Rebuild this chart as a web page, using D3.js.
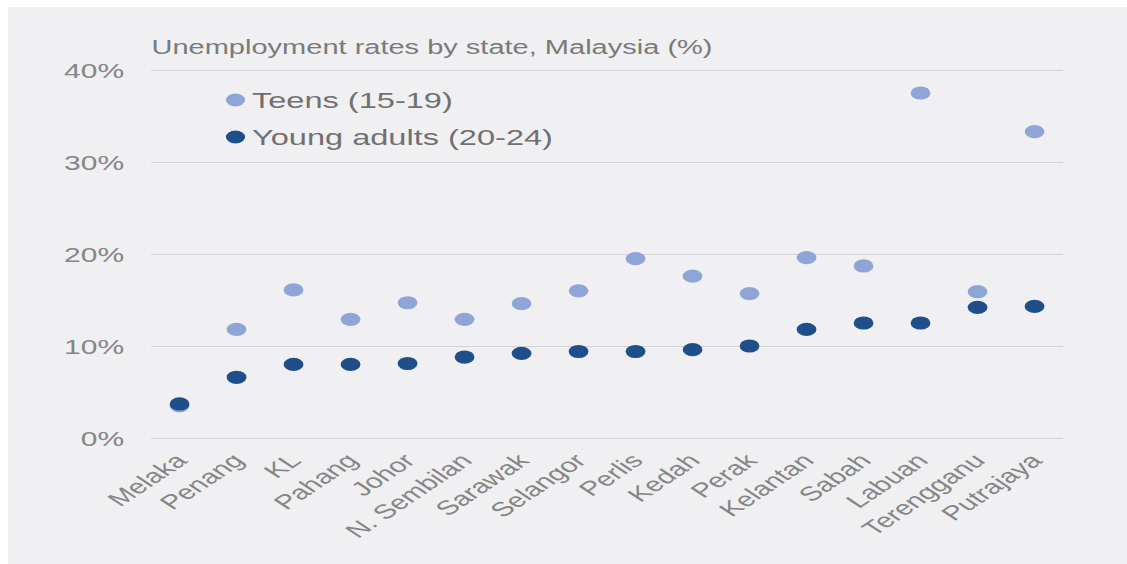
<!DOCTYPE html>
<html>
<head>
<meta charset="utf-8">
<script src="https://cdn.jsdelivr.net/npm/d3@7"></script>
<style>
  body { margin: 0; background: #fff; }
  text { font-family: "Liberation Sans", Arial, sans-serif; }
</style>
</head>
<body>
<div id="chart"></div>
<script>
// states, sorted as in the source chart
const states = ["Melaka", "Penang", "KL", "Pahang", "Johor", "N. Sembilan", "Sarawak", "Selangor",
  "Perlis", "Kedah", "Perak", "Kelantan", "Sabah", "Labuan", "Terengganu", "Putrajaya"];
// teens (15-19), %
const teens = [3.5, 11.8, 16.1, 12.9, 14.7, 12.9, 14.6, 16.0, 19.5, 17.6, 15.7, 19.6, 18.7, 37.5, 15.9, 33.3];
// young adults (20-24), %
const youngAdults = [3.7, 6.6, 8.0, 8.0, 8.1, 8.8, 9.2, 9.4, 9.4, 9.6, 10.0, 11.8, 12.5, 12.5, 14.2, 14.3];
const yTicks = [0, 10, 20, 30, 40];
const seriesNames = ["Teens (15-19)", "Young adults (20-24)"];
const chartTitle = "Unemployment rates by state, Malaysia (%)";

const width = 1127;
const height = 564;
const stretch = 1.5; // the source picture is stretched sideways
const colors = ["#8fa5d8", "#1f4f8b"];

const svg = d3.select("#chart")
  .append("svg")
  .attr("width", width)
  .attr("height", height);

// grey panel
svg.append("rect")
  .attr("x", 8)
  .attr("y", 7)
  .attr("width", width - 8)
  .attr("height", height - 7)
  .attr("fill", "#f0f0f2");

const g = svg.append("g").attr("transform", "scale(" + stretch + ",1)");

const x = d3.scaleBand()
  .domain(states)
  .range([100.7, 708.7]);
const y = d3.scaleLinear()
  .domain([0, 40])
  .range([438, 70]);

// y axis with gridlines
const yAxis = g.append("g")
  .attr("transform", "translate(100.7,0)")
  .call(d3.axisLeft(y)
    .tickValues(yTicks)
    .tickSize(-(708.7 - 100.7))
    .tickPadding(18)
    .tickFormat(d => d + "%"));
yAxis.select(".domain").remove();
yAxis.selectAll("line").attr("stroke", "#d2d2d4").attr("stroke-width", 1);
yAxis.selectAll("text")
  .attr("fill", "#858585")
  .style("font-size", "20px")
  .attr("dy", "0.35em");

// x labels, rotated
g.selectAll(".xlab")
  .data(states)
  .enter()
  .append("text")
  .attr("class", "xlab")
  .attr("text-anchor", "end")
  .attr("transform", d => "translate(" + (x(d) + x.bandwidth() / 2 + 6) + ",462) rotate(-45)")
  .attr("fill", "#858585")
  .style("font-size", "20px")
  .text(d => d);

// dots
[teens, youngAdults].forEach(function(values, i) {
  g.selectAll(".dot" + i)
    .data(values)
    .enter()
    .append("circle")
    .attr("class", "dot" + i)
    .attr("cx", (d, j) => x(states[j]) + x.bandwidth() / 2)
    .attr("cy", d => y(d))
    .attr("r", 6.6)
    .attr("fill", colors[i]);
});

// title
g.append("text")
  .attr("x", 101)
  .attr("y", 54)
  .attr("fill", "#7a7a7a")
  .attr("textLength", 374)
  .attr("lengthAdjust", "spacingAndGlyphs")
  .style("font-size", "21px")
  .text(chartTitle);

// legend
const legend = g.selectAll(".legend")
  .data(seriesNames)
  .enter()
  .append("g")
  .attr("class", "legend")
  .attr("transform", (d, i) => "translate(157," + (100 + i * 37) + ")");
legend.append("circle")
  .attr("r", 6.4)
  .attr("fill", (d, i) => colors[i]);
legend.append("text")
  .attr("x", 11)
  .attr("dy", "0.35em")
  .attr("fill", "#707070")
  .style("font-size", "21.7px")
  .text(d => d);
</script>
</body>
</html>
